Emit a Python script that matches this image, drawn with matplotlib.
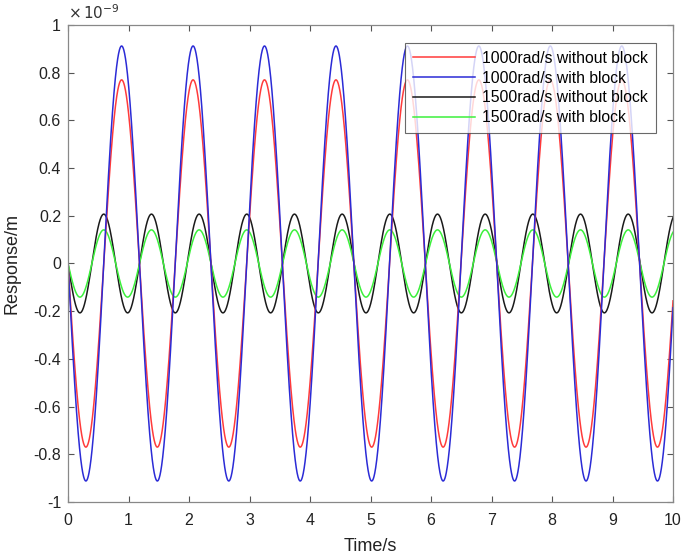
import numpy as np
import matplotlib
matplotlib.use("Agg")
import matplotlib.pyplot as plt
from matplotlib.ticker import FuncFormatter

plt.rcParams['font.family'] = ['Liberation Sans', 'DejaVu Sans']
plt.rcParams['axes.unicode_minus'] = False

# Series: amplitude (x1e-9 m), period (s), all start at 0 going negative
labels = ["1000rad/s without block", "1000rad/s with block",
          "1500rad/s without block", "1500rad/s with block"]
amplitudes = [0.77, 0.912, 0.207, 0.141]   # x 1e-9 m
periods = [1.181, 1.181, 0.788, 0.788]     # s
colors = ["#ff3b3b", "#2b2bd6", "#1a1a1a", "#3cf03c"]

t = np.linspace(0, 10, 4001)

fig = plt.figure(figsize=(6.85, 5.58), dpi=100)
ax = fig.add_axes([0.0993, 0.1004, 0.8832, 0.8548])

order = [2, 3, 0, 1]
lines = {}
for i in order:
    y = -amplitudes[i] * np.sin(2 * np.pi * t / periods[i])
    ln, = ax.plot(t, y, color=colors[i], lw=1.1, label=labels[i])
    lines[i] = ln

ax.set_xlim(0, 10)
ax.set_ylim(-1, 1)
ax.set_xticks(np.arange(0, 11, 1))
ax.set_yticks(np.round(np.arange(-1.0, 1.01, 0.2), 1))
ax.yaxis.set_major_formatter(FuncFormatter(lambda v, p: ('%g' % round(v, 1)) if abs(v) > 1e-9 else '0'))
ax.text(0.0, 1.006, r'$\times\,10^{\mathrm{-9}}$', transform=ax.transAxes,
        fontsize=11, color='#333333', ha='left', va='bottom')

ax.tick_params(direction='in', top=True, right=True, length=4, width=0.8,
               labelsize=11.5, colors='#555555', labelcolor='#222222')
ax.tick_params(axis='x', pad=8)
ax.tick_params(axis='y', pad=5)
for s in ax.spines.values():
    s.set_color('#888888')
    s.set_linewidth(0.9)

ax.set_xlabel("Time/s", fontsize=13, color='#222222', labelpad=7)
ax.set_ylabel("Response/m", fontsize=13, color='#222222', labelpad=9)

leg = ax.legend([lines[i] for i in range(4)], labels, loc='upper right',
                bbox_to_anchor=(0.972, 0.962), fontsize=11.3, frameon=True,
                fancybox=False, edgecolor='#444444', handlelength=3.9,
                borderpad=0.5, labelspacing=0.3, handletextpad=0.5,
                borderaxespad=0.0)
leg.get_frame().set_linewidth(0.8)

fig.savefig("out.png", dpi=100)
